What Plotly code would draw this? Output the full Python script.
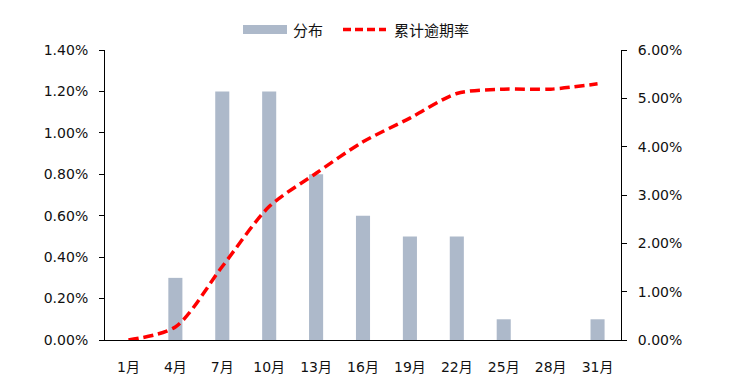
import plotly.graph_objects as go

categories = ["1月", "4月", "7月", "10月", "13月", "16月", "19月", "22月", "25月", "28月", "31月"]
distribution = [0.0, 0.30, 1.20, 1.20, 0.80, 0.60, 0.50, 0.50, 0.10, 0.0, 0.10]
cumulative = [0.0, 0.27, 1.52, 2.76, 3.45, 4.10, 4.59, 5.10, 5.19, 5.19, 5.30]
left_ticks = [0, 0.2, 0.4, 0.6, 0.8, 1.0, 1.2, 1.4]
right_ticks = [0, 1, 2, 3, 4, 5, 6]
series_names = ["分布", "累计逾期率"]

# page has an 8px body margin; figure sized to fit the 731x392 window
OFF = 8
W, H = 731 - OFF, 392 - OFF
# target plot area in window pixels: x 105..621, y 50..340
L = 105 - OFF
R = W - (621 - OFF)
T = 50 - OFF
B = H - (340 - OFF)
bar_color = "#adb9ca"
line_color = "#ff0000"
tick_font = dict(family="DejaVu Sans, Noto Sans CJK SC, sans-serif", size=14, color="#111")

fig = go.Figure()
fig.add_trace(go.Bar(
    x=categories, y=distribution, name=series_names[0],
    marker=dict(color=bar_color, line=dict(width=0)),
    width=0.3, yaxis="y", showlegend=False,
))
fig.add_trace(go.Scatter(
    x=categories, y=cumulative, name=series_names[1], mode="lines",
    line=dict(color=line_color, width=3.5, dash="10px,5px", shape="spline", smoothing=0.8),
    yaxis="y2", showlegend=False,
))

# custom legend in paper coordinates (window pixel positions converted)
def px_x(x):
    return (x - OFF - L) / (W - L - R)

def px_y(y):
    return (H - B - (y - OFF)) / (H - T - B)

shapes = [
    dict(type="rect", xref="paper", yref="paper",
         x0=px_x(243), x1=px_x(287), y0=px_y(34), y1=px_y(25),
         fillcolor=bar_color, line=dict(width=0)),
    dict(type="line", xref="paper", yref="paper",
         x0=px_x(343), x1=px_x(386), y0=px_y(29.5), y1=px_y(29.5),
         line=dict(color=line_color, width=3.5, dash="8px,4px")),
]
annotations = [
    dict(xref="paper", yref="paper", x=px_x(291), y=px_y(29.5), xanchor="left", yanchor="middle",
         text=series_names[0], showarrow=False,
         font=dict(family="Noto Sans CJK SC, sans-serif", size=15, color="#111")),
    dict(xref="paper", yref="paper", x=px_x(392), y=px_y(29.5), xanchor="left", yanchor="middle",
         text=series_names[1], showarrow=False,
         font=dict(family="Noto Sans CJK SC, sans-serif", size=15, color="#111")),
]

fig.update_layout(
    width=W, height=H,
    margin=dict(l=L, r=R, t=T, b=B, autoexpand=False),
    paper_bgcolor="white", plot_bgcolor="white",
    font=tick_font,
    showlegend=False,
    shapes=shapes, annotations=annotations,
    xaxis=dict(type="category", showline=True, linecolor="black", linewidth=1,
               ticks="outside", ticklen=14, tickcolor="rgba(0,0,0,0)",
               showgrid=False, tickfont=tick_font, automargin=False),
    yaxis=dict(range=[0, 1.4], tickvals=left_ticks,
               ticktext=[f"{v:.2f}%" for v in left_ticks],
               showline=True, linecolor="black", linewidth=1, ticks="outside",
               ticklen=5, tickcolor="black", showgrid=False, zeroline=False,
               ticklabelstandoff=8, tickfont=tick_font, automargin=False),
    yaxis2=dict(range=[0, 6], tickvals=right_ticks,
                ticktext=[f"{v:.2f}%" for v in right_ticks],
                overlaying="y", side="right",
                showline=True, linecolor="black", linewidth=1, ticks="outside",
                ticklen=5, tickcolor="black", showgrid=False, zeroline=False,
                ticklabelstandoff=8, tickfont=tick_font, automargin=False),
)

fig.write_html("out.html")
